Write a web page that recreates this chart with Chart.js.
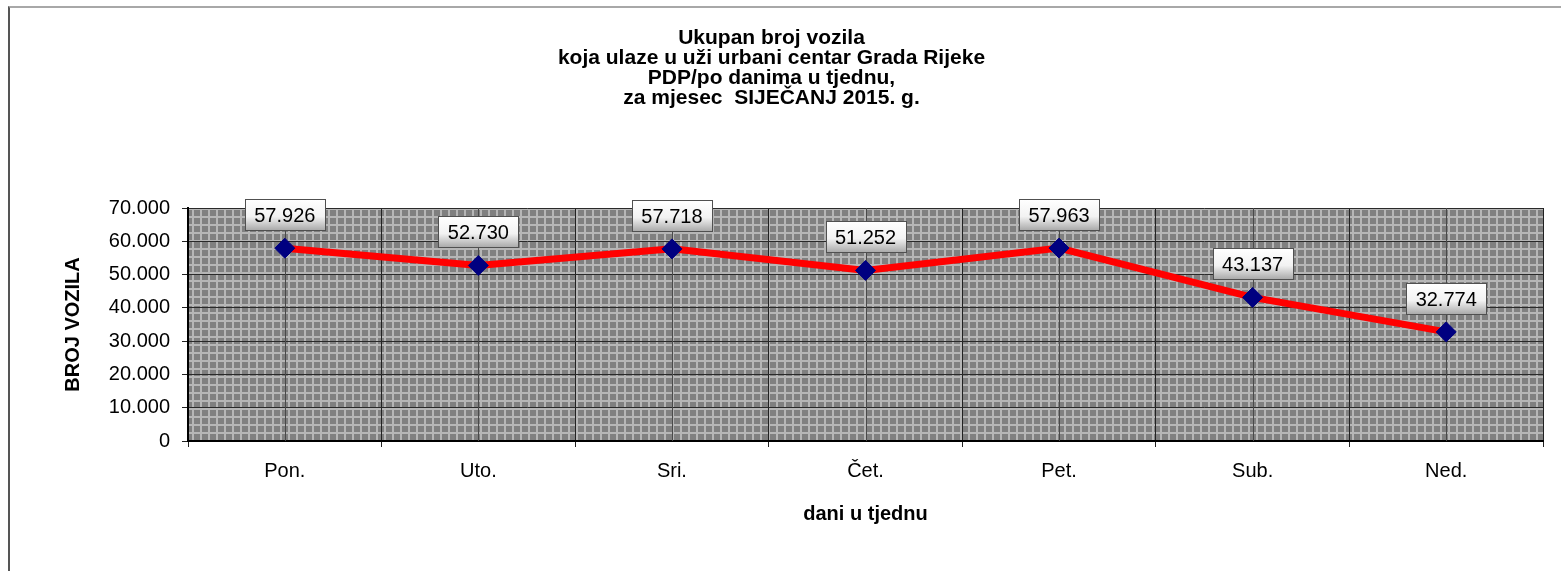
<!DOCTYPE html>
<html>
<head>
<meta charset="utf-8">
<script src="https://cdn.jsdelivr.net/npm/chart.js@4"></script>
<style>
  body { margin: 0; background: #fff; }
  #wrap { position: relative; width: 1561px; height: 571px; overflow: hidden; }
  #frame { position: absolute; left: 8px; top: 6px; width: 1700px; height: 700px;
           border-top: 2px solid #a8a8a8; border-left: 2px solid #555; }
  canvas { position: absolute; left: 0; top: 0; }
</style>
</head>
<body>
<div id="wrap">
  <div id="frame"></div>
  <canvas id="myChart" width="1561" height="571"></canvas>
</div>
<script>
// Chart data
const days = ['Pon.', 'Uto.', 'Sri.', 'Čet.', 'Pet.', 'Sub.', 'Ned.'];
const vehicles = [57926, 52730, 57718, 51252, 57963, 43137, 32774];
const yTicks = [0, 10000, 20000, 30000, 40000, 50000, 60000, 70000];

const titleLines = [
  'Ukupan broj vozila',
  'koja ulaze u uži urbani centar Grada Rijeke',
  'PDP/po danima u tjednu,',
  'za mjesec  SIJEČANJ 2015. g.'
];

const FONT = 'Arial, "Liberation Sans", sans-serif';

// 57926 -> "57.926"
function formatNum(v) {
  return String(v).replace(/\B(?=(\d{3})+(?!\d))/g, '.');
}

// Gray checkered fill of the plot area
function makePattern(ctx) {
  const c = document.createElement('canvas');
  c.width = 8;
  c.height = 8;
  const p = c.getContext('2d');
  p.fillStyle = '#808080';
  p.fillRect(0, 0, 8, 8);
  p.fillStyle = '#b6b6b6';
  p.fillRect(0, 0, 8, 2);
  p.fillRect(0, 0, 2, 8);
  return ctx.createPattern(c, 'repeat');
}

const plotBackground = {
  id: 'plotBackground',
  beforeDraw(chart) {
    const { ctx, chartArea } = chart;
    ctx.save();
    ctx.fillStyle = makePattern(ctx);
    ctx.fillRect(chartArea.left, chartArea.top, chartArea.right - chartArea.left, chartArea.bottom - chartArea.top);
    ctx.restore();
  },
  beforeDatasetsDraw(chart) {
    // thin lines through each category center
    const { ctx, chartArea, scales } = chart;
    ctx.save();
    ctx.strokeStyle = '#4a4a4a';
    ctx.lineWidth = 1;
    days.forEach((d, i) => {
      const x = Math.round(scales.x.getPixelForValue(i)) + 0.5;
      ctx.beginPath();
      ctx.moveTo(x, chartArea.top);
      ctx.lineTo(x, chartArea.bottom);
      ctx.stroke();
    });
    ctx.restore();
  }
};

const valueBoxes = {
  id: 'valueBoxes',
  afterDatasetsDraw(chart) {
    const { ctx } = chart;
    const meta = chart.getDatasetMeta(0);
    ctx.save();
    ctx.font = '20px ' + FONT;
    ctx.textAlign = 'center';
    ctx.textBaseline = 'middle';
    meta.data.forEach((pt, i) => {
      const w = 80, h = 31;
      const x = Math.round(pt.x - w / 2) + 0.5;
      const y = Math.round(pt.y - 18 - h) + 0.5;
      const g = ctx.createLinearGradient(0, y, 0, y + h);
      g.addColorStop(0, '#ffffff');
      g.addColorStop(0.55, '#f2f2f2');
      g.addColorStop(1, '#a8a8a8');
      ctx.fillStyle = g;
      ctx.fillRect(x, y, w, h);
      ctx.strokeStyle = '#505050';
      ctx.lineWidth = 1;
      ctx.strokeRect(x, y, w, h);
      ctx.fillStyle = '#000';
      ctx.fillText(formatNum(vehicles[i]), pt.x, y + h / 2 + 1);
    });
    ctx.restore();
  }
};

const ctx = document.getElementById('myChart').getContext('2d');
const myChart = new Chart(ctx, {
  type: 'line',
  data: {
    labels: days,
    datasets: [{
      data: vehicles,
      borderColor: '#ff0000',
      borderWidth: 7,
      tension: 0,
      pointStyle: 'rectRot',
      pointRadius: 10,
      pointBackgroundColor: '#000080',
      pointBorderColor: '#000080',
      pointBorderWidth: 1
    }]
  },
  options: {
    responsive: false,
    animation: false,
    events: [],
    layout: { padding: { left: 0, right: 18, top: 0, bottom: 0 } },
    plugins: {
      legend: { display: false },
      tooltip: { enabled: false },
      title: {
        display: true,
        text: titleLines,
        color: '#000',
        font: { family: FONT, size: 21, weight: 'bold', lineHeight: '20px' },
        padding: { top: 28, bottom: 100 }
      }
    },
    scales: {
      x: {
        offset: true,
        grid: { offset: true, color: '#222', lineWidth: 1, tickLength: 6, tickColor: '#222' },
        border: { color: '#000', width: 2 },
        ticks: { color: '#000', font: { family: FONT, size: 20 }, padding: 12, maxRotation: 0 },
        title: {
          display: true,
          text: 'dani u tjednu',
          color: '#000',
          font: { family: FONT, size: 20, weight: 'bold' },
          padding: { top: 10, bottom: 45 }
        },
        afterFit(scale) { scale.height = 130; }
      },
      y: {
        min: 0,
        max: 70000,
        afterBuildTicks(scale) { scale.ticks = yTicks.map(v => ({ value: v })); },
        grid: { color: '#2a2a2a', lineWidth: 1, tickLength: 6, tickColor: '#222' },
        border: { color: '#000', width: 2 },
        ticks: {
          color: '#000',
          font: { family: FONT, size: 20 },
          padding: 12,
          callback: v => formatNum(v)
        },
        title: {
          display: true,
          text: 'BROJ VOZILA',
          color: '#000',
          font: { family: FONT, size: 20, weight: 'bold' },
          padding: { top: 61, bottom: 0 }
        },
        afterFit(scale) { scale.width = 188; }
      }
    }
  },
  plugins: [plotBackground, valueBoxes]
});
</script>
</body>
</html>
